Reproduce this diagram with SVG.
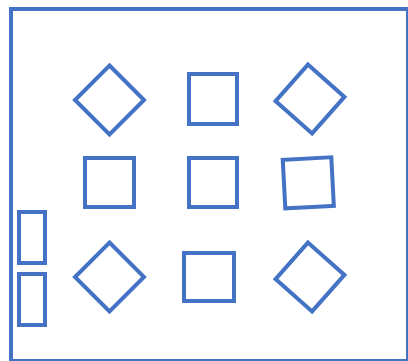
<svg xmlns="http://www.w3.org/2000/svg" width="408" height="361" viewBox="0 0 408 361">
<style>
.s{fill:none;stroke:#4472C4;stroke-width:4}
</style>
<rect width="408" height="361" fill="#fff"/>
<g id="frame"><rect class="s" x="11" y="9" width="397" height="352"/></g>
<g id="d1"><polygon class="s" points="109.5,65.5 144,100 109.5,134.5 75,100"/></g>
<g id="sq1"><rect class="s" x="189" y="74" width="48" height="50"/></g>
<g id="d2"><polygon class="s" points="310,64.5 344.5,99 310,133.5 275.5,99" transform="rotate(-3.5 310 99)"/></g>
<g id="sq2"><rect class="s" x="85" y="158" width="49" height="49"/></g>
<g id="sq3"><rect class="s" x="189" y="158" width="48" height="49"/></g>
<g id="sq4"><rect class="s" x="284" y="158.5" width="48.6" height="48.6" transform="rotate(-3 308.3 182.8)"/></g>
<g id="r1"><rect class="s" x="19" y="212" width="26" height="51"/></g>
<g id="r2"><rect class="s" x="19" y="274" width="26" height="51"/></g>
<g id="d3"><polygon class="s" points="109.5,242.5 144,277 109.5,311.5 75,277"/></g>
<g id="sq5"><rect class="s" x="184" y="253" width="50" height="48"/></g>
<g id="d4"><polygon class="s" points="310,242.5 344.5,277 310,311.5 275.5,277" transform="rotate(-3.5 310 277)"/></g>
<g id="connectors"></g>
</svg>
